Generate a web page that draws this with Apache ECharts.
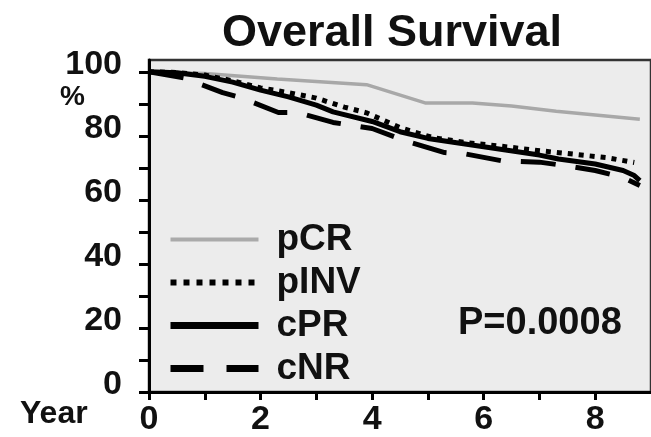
<!DOCTYPE html>
<html>
<head>
<meta charset="utf-8">
<script src="https://cdn.jsdelivr.net/npm/echarts@6/dist/echarts.min.js"></script>
<style>
html,body{margin:0;padding:0;background:#fff;}
#c{width:651px;height:437px;}
</style>
</head>
<body>
<div id="c"></div>
<script>
// ---- data (year, survival %) ----
const seriesNames = ['pCR', 'pINV', 'cPR', 'cNR'];
const pCR = [[0,100],[1,99.5],[2.3,97.8],[3.9,96],[4.95,90.3],[5.8,90.3],[6.5,89.3],[7.3,87.7],[8.8,85.2]];
const pINV = [[0,100],[0.5,99.8],[1,99],[1.5,97.2],[2,95],[2.5,93.5],[3,91.8],[3.5,89],[3.9,87.2],[4.5,82.6],[5.08,79.5],[5.68,77.9],[6.3,76.8],[7.04,75.3],[7.6,74.3],[8.2,73.2],[8.7,71.7]];
const cPR = [[0,100],[0.5,99.7],[1,98.6],[1.5,96.8],[2,94.3],[2.5,92.2],[3,89.6],[3.3,87.5],[4,84.5],[4.5,81.3],[5,79.2],[6,76.6],[7,74],[7.34,72.8],[8,71.2],[8.5,69.2],[8.7,67.6],[8.8,66]];
const cNR = [[0,100],[0.62,98.1],[1.32,93.5],[1.64,92],[2.32,87.3],[2.66,87.3],[3.3,84.2],[4,82.3],[4.6,78.4],[5.3,74.8],[5.69,74.3],[6.33,72.2],[7,71.8],[7.5,70.6],[8,69.2],[8.5,67],[8.8,64.5]];
const xTickLabels = {0:'0',2:'2',4:'4',6:'6',8:'8'};
const yTickLabels = {0:'0',20:'20',40:'40',60:'60',80:'80',100:'100'};
const titleText = 'Overall Survival';
const pText = 'P=0.0008';

const F = '"Liberation Sans", Arial, sans-serif';
const chart = echarts.init(document.getElementById('c'), null, {renderer:'canvas'});
const styles = {
  pCR: {color:'#a8a8a8', width:3.5, type:'solid'},
  pINV:{color:'#000', width:5, type:[5,6]},
  cPR: {color:'#000', width:5, type:'solid'},
  cNR: {color:'#000', width:5, type:[35,20]}
};
const legendStyles = {
  pCR: {color:'#aaaaaa', width:4, type:'solid'},
  pINV:{color:'#000', width:6, type:[6,7]},
  cPR: {color:'#000', width:7, type:'solid'},
  cNR: {color:'#000', width:7, type:[33,23]}
};
const dataMap = {pCR, pINV, cPR, cNR};
chart.setOption({
  animation:false,
  backgroundColor:'#fff',
  title:{text:titleText, left:387, top:6, textAlign:'center',
    textStyle:{fontFamily:F, fontSize:45, fontWeight:'bold', color:'#111'}},
  grid:{left:149, top:60, right:-2, bottom:42, show:true, backgroundColor:'#ececec', borderColor:'#333', borderWidth:2.5},
  legend:{orient:'vertical', left:167, top:221, padding:0, itemWidth:88, itemHeight:14, itemGap:6,
    itemStyle:{opacity:0, borderWidth:0},
    data:seriesNames.map(n => ({name:n,
      itemStyle:{opacity:0, borderWidth:0},
      lineStyle:{color:legendStyles[n].color, width:legendStyles[n].width, type:legendStyles[n].type, cap:'butt'}})),
    textStyle:{fontFamily:F, fontSize:37, fontWeight:'bold', color:'#111', padding:[0,0,0,13]}},
  xAxis:{type:'value', min:0, max:9, interval:1,
    axisLine:{lineStyle:{color:'#000', width:3}},
    axisTick:{show:true, inside:false, length:8, lineStyle:{color:'#000', width:3}},
    splitLine:{show:false},
    axisLabel:{margin:11, fontFamily:F, fontSize:34, fontWeight:'bold', color:'#111',
      showMaxLabel:false,
      formatter:v => (xTickLabels[v] !== undefined ? xTickLabels[v] : '')}},
  yAxis:{type:'value', min:0, max:103.7, interval:10,
    axisLine:{show:true, lineStyle:{color:'#000', width:3}},
    axisTick:{show:true, inside:false, length:10, lineStyle:{color:'#000', width:3}},
    splitLine:{show:false},
    axisLabel:{margin:27, fontFamily:F, fontSize:34, fontWeight:'bold', color:'#111',
      showMaxLabel:false, verticalAlign:'bottom', lineHeight:14,
      formatter:v => (yTickLabels[v] !== undefined ? yTickLabels[v] : '')}},
  graphic:[
    {type:'text', left:20, top:398, style:{text:'Year', fontFamily:F, fontSize:32, fontWeight:'bold', fill:'#111'}},
    {type:'text', left:60, top:83, style:{text:'%', fontFamily:F, fontSize:28, fontWeight:'bold', fill:'#111'}},
    {type:'text', left:458, top:305, style:{text:pText, fontFamily:F, fontSize:38, fontWeight:'bold', fill:'#111'}}
  ],
  series:seriesNames.map(n => ({
    name:n, type:'line', data:dataMap[n], symbol:'none', showSymbol:false,
    lineStyle:{color:styles[n].color, width:styles[n].width, type:styles[n].type, cap:'butt'},
    itemStyle:{color:styles[n].color},
    z: n==='pCR'?2:3
  }))
});
</script>
</body>
</html>
